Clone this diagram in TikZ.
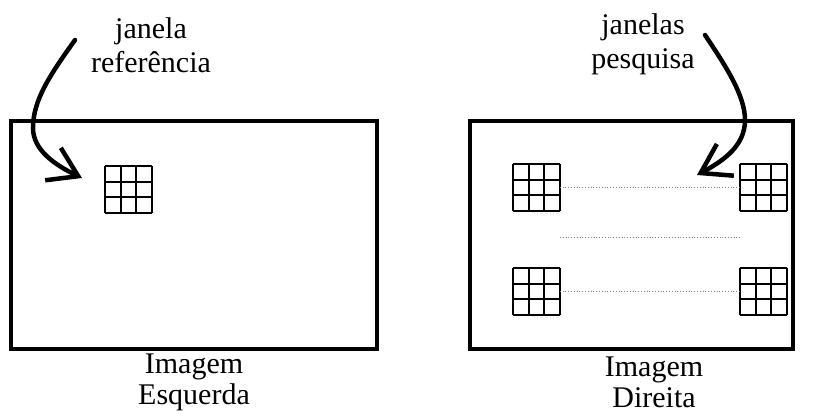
\documentclass[tikz,border=0pt]{standalone}
\usepackage{fontspec}
\setmainfont{Liberation Serif}
\usetikzlibrary{arrows.meta, positioning}

\tikzset{
    rotulo/.style={align=center, inner sep=0pt, font=\fontsize{30}{36}\selectfont},
    imagem/.style={draw, line width=4pt},
    gridline/.style={line width=2pt},
    ligacao/.style={gray, dotted, line width=0.8pt},
    seta/.style={line width=4.5pt, line cap=round,
        -{Straight Barb[length=28pt, width=36pt, line width=4.5pt]}},
    janelagrid/.pic={
        \foreach \k in {0,1,2,3}{
            \draw[gridline] (\k*15.6,0) -- (\k*15.6,46.8);
            \draw[gridline] (0,\k*15.6) -- (46.8,\k*15.6);
        }
        \coordinate (-w) at (0,23.4);
        \coordinate (-e) at (46.8,23.4);
    }
}

\begin{document}
\begin{tikzpicture}[x=1pt, y=-1pt]
    \useasboundingbox (0,0) rectangle (824,415);

    % Imagens
    \draw[imagem] (11,121) rectangle (377,349);
    \draw[imagem] (470,121) rectangle (793,349);
    \node[rotulo] (esq) at (194,382) {Imagem\\[-5pt]Esquerda};
    \node[rotulo] (dir) at (654,382) {Imagem\\[-5pt]Direita};

    % Janela de referencia
    \pic (ref) at (105,166) {janelagrid};
    \node[rotulo] (refrot) at (151,45) {janela\\[-2pt]referência};
    \coordinate (refini) at (75,40);
    \coordinate (reffim) at (82,178);
    \draw[seta] (refini) .. controls (50,75) and (33,100) .. (33,128)
        .. controls (33,150) and (55,165) .. (reffim);

    % Janelas de pesquisa
    \pic (pa) at (513,164) {janelagrid};
    \pic (pb) at (740,164) {janelagrid};
    \pic (pc) at (513,268) {janelagrid};
    \pic (pd) at (740,268) {janelagrid};
    \draw[ligacao] (pa-e) -- (pb-w);
    \draw[ligacao] (pc-e) -- (pd-w);
    \coordinate (meioa) at (560,237);
    \coordinate (meiob) at (742,237);
    \draw[ligacao] (meioa) -- (meiob);

    \node[rotulo] (pesqrot) at (643,44) {janelas\\[-2pt]pesquisa};
    \coordinate (pesqini) at (705,35);
    \coordinate (pesqfim) at (697,175);
    \draw[seta] (pesqini) .. controls (725,65) and (745,95) .. (745,120)
        .. controls (745,145) and (725,160) .. (pesqfim);
\end{tikzpicture}
\end{document}
